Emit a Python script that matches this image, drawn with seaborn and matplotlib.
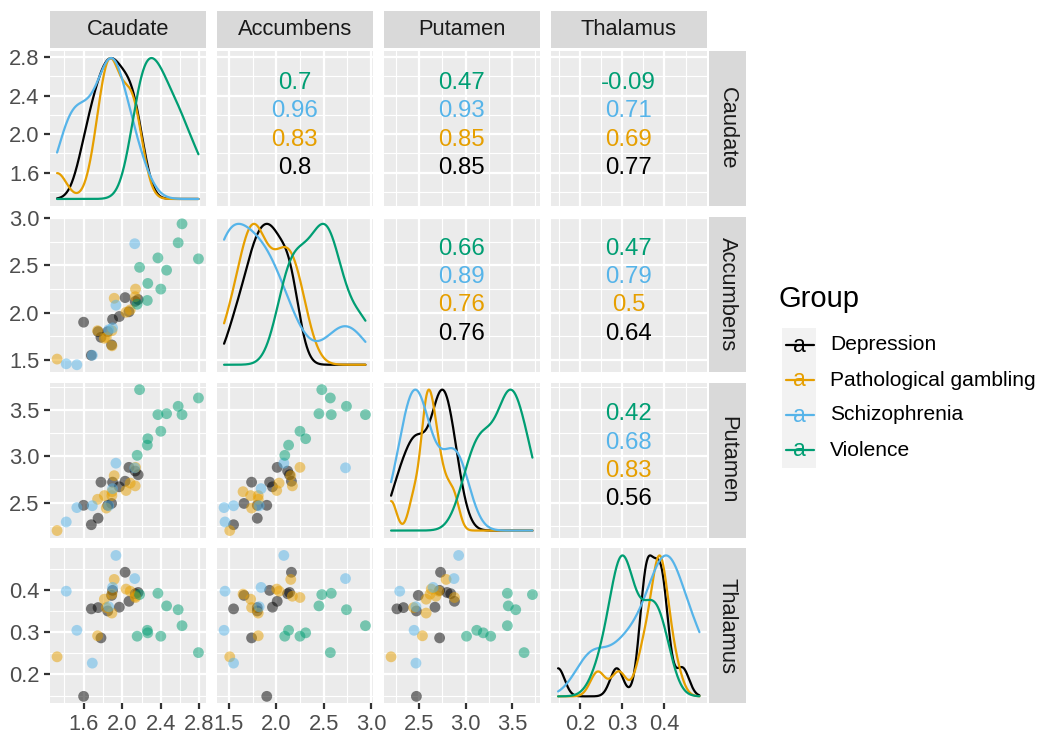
import numpy as np
import pandas as pd
import seaborn as sns
import matplotlib.pyplot as plt
from matplotlib.patches import Rectangle

sns.set_theme(style="darkgrid")
plt.rcParams['font.family'] = ['Liberation Sans', 'DejaVu Sans']

# Regional measures per subject, one list per group and region
depression_caudate = [1.60, 1.68, 1.75, 1.78, 1.85, 1.89, 1.90, 1.97, 2.03, 2.07, 2.135, 2.165]
depression_accumbens = [1.90, 1.55, 1.80, 1.74, 1.80, 1.66, 1.93, 1.96, 2.16, 2.01, 2.12, 2.14]
depression_putamen = [2.47, 2.26, 2.33, 2.72, 2.47, 2.49, 2.72, 2.67, 2.73, 2.88, 2.84, 2.80]
depression_thalamus = [0.148, 0.356, 0.359, 0.287, 0.351, 0.388, 0.400, 0.360, 0.443, 0.374, 0.392, 0.395]

gambling_caudate = [1.325, 1.745, 1.917, 2.04, 2.138, 1.815, 1.835, 1.893, 1.894, 2.135, 2.083]
gambling_accumbens = [1.51, 1.81, 2.153, 2.005, 2.25, 1.73, 1.74, 1.81, 1.65, 2.17, 2.03]
gambling_putamen = [2.197, 2.535, 2.79, 2.63, 2.88, 2.575, 2.44, 2.575, 2.617, 2.68, 2.71]
gambling_thalamus = [0.242, 0.292, 0.426, 0.403, 0.383, 0.379, 0.359, 0.346, 0.391, 0.386, 0.398]

schizophrenia_caudate = [1.42, 1.53, 1.69, 1.935, 2.13, 1.90, 1.86]
schizophrenia_accumbens = [1.46, 1.45, 1.55, 2.08, 2.73, 1.84, 1.82]
schizophrenia_putamen = [2.29, 2.445, 2.465, 2.925, 2.875, 2.65, 2.465]
schizophrenia_thalamus = [0.398, 0.305, 0.227, 0.483, 0.428, 0.407, 0.361]

violence_caudate = [2.62, 2.58, 2.79, 2.37, 2.46, 2.18, 2.265, 2.40, 2.26, 2.155]
violence_accumbens = [2.94, 2.74, 2.57, 2.58, 2.45, 2.48, 2.31, 2.25, 2.13, 2.09]
violence_putamen = [3.45, 3.54, 3.63, 3.45, 3.46, 3.72, 3.19, 3.27, 3.12, 3.01]
violence_thalamus = [0.316, 0.354, 0.252, 0.393, 0.363, 0.390, 0.299, 0.291, 0.305, 0.291]

group_names = ["Depression", "Pathological gambling", "Schizophrenia", "Violence"]
group_colors = ["#000000", "#E69F00", "#56B4E9", "#009E73"]
regions = ["Caudate", "Accumbens", "Putamen", "Thalamus"]

# Within-group correlations printed in the upper panels
corr_pairs = [("Caudate", "Accumbens"), ("Caudate", "Putamen"), ("Caudate", "Thalamus"),
              ("Accumbens", "Putamen"), ("Accumbens", "Thalamus"), ("Putamen", "Thalamus")]
corr_depression = [0.8, 0.85, 0.77, 0.76, 0.64, 0.56]
corr_gambling = [0.83, 0.85, 0.69, 0.76, 0.5, 0.83]
corr_schizophrenia = [0.96, 0.93, 0.71, 0.89, 0.79, 0.68]
corr_violence = [0.7, 0.47, -0.09, 0.66, 0.47, 0.42]

major_breaks = {"Caudate": [1.6, 2.0, 2.4, 2.8], "Accumbens": [1.5, 2.0, 2.5, 3.0],
                "Putamen": [2.5, 3.0, 3.5], "Thalamus": [0.2, 0.3, 0.4]}
minor_breaks = {"Caudate": [1.4, 1.8, 2.2, 2.6], "Accumbens": [1.75, 2.25, 2.75],
                "Putamen": [2.25, 2.75, 3.25, 3.75], "Thalamus": [0.15, 0.25, 0.35, 0.45]}

frames = []
for name, cols in zip(group_names, [
        (depression_caudate, depression_accumbens, depression_putamen, depression_thalamus),
        (gambling_caudate, gambling_accumbens, gambling_putamen, gambling_thalamus),
        (schizophrenia_caudate, schizophrenia_accumbens, schizophrenia_putamen, schizophrenia_thalamus),
        (violence_caudate, violence_accumbens, violence_putamen, violence_thalamus)]):
    frames.append(pd.DataFrame({"Group": name, **dict(zip(regions, cols))}))
df = pd.concat(frames, ignore_index=True)
palette = dict(zip(group_names, group_colors))

corr_table = {g: dict(zip(corr_pairs, vals)) for g, vals in zip(
    group_names, [corr_depression, corr_gambling, corr_schizophrenia, corr_violence])}


def nrd0(x):
    sd = np.std(x, ddof=1)
    q75, q25 = np.percentile(x, [75, 25])
    lo = min(sd, (q75 - q25) / 1.34)
    if lo <= 0:
        lo = sd
    return 0.9 * lo * len(x) ** -0.2


# Scaled group densities mapped onto each region's value range
dens_parts = []
for v in regions:
    lo, hi = df[v].min(), df[v].max()
    grid = np.linspace(lo, hi, 512)
    for g in group_names:
        x = df.loc[df.Group == g, v].to_numpy()
        bw = nrd0(x)
        d = np.exp(-0.5 * ((grid[:, None] - x[None, :]) / bw) ** 2).sum(axis=1)
        d = d / d.max()
        dens_parts.append(pd.DataFrame({"region": v, "Group": g, "x": grid,
                                        "y": lo + d * (hi - lo)}))
dens = pd.concat(dens_parts, ignore_index=True)

lims = {}
for v in regions:
    lo, hi = df[v].min(), df[v].max()
    pad = 0.05 * (hi - lo)
    lims[v] = (lo - pad, hi + pad)

W, H, DPI = 1040, 738, 150
fig = plt.figure(figsize=(W / DPI, H / DPI), dpi=DPI)
fig.patch.set_facecolor("white")


def px_axes(x0, y0, w, h):
    return fig.add_axes([x0 / W, 1 - (y0 + h) / H, w / W, h / H])


col_left = [50, 217, 384, 551]
row_top = [51, 216.8, 382.6, 548.4]
PW, PH = 155.5, 155
LW = 1.07
AXIS_FS = 10.5
text_rows_y = [0.795, 0.612, 0.429, 0.246]
text_order = ["Violence", "Schizophrenia", "Pathological gambling", "Depression"]

for i, rv in enumerate(regions):
    for j, cv in enumerate(regions):
        ax = px_axes(col_left[j], row_top[i], PW, PH)
        ax.set_facecolor("#EBEBEB")
        if i > j:
            sns.scatterplot(data=df, x=cv, y=rv, hue="Group", hue_order=group_names,
                            palette=palette, alpha=0.5, s=27, linewidth=0,
                            legend=False, ax=ax, zorder=3)
        elif i == j:
            sns.lineplot(data=dens[dens.region == rv], x="x", y="y", hue="Group",
                         hue_order=group_names, palette=palette, estimator=None,
                         sort=False, lw=LW, legend=False, ax=ax, zorder=3)
        else:
            for g, yy in zip(text_order, text_rows_y):
                ax.text(0.5, yy, f"{corr_table[g][(rv, cv)]:g}", transform=ax.transAxes,
                        ha="center", va="center", fontsize=11.5, color=palette[g], zorder=3)
        ax.set_xlim(lims[cv])
        ax.set_ylim(lims[rv])
        ax.set_xticks(major_breaks[cv])
        ax.set_xticks(minor_breaks[cv], minor=True)
        ax.set_yticks(major_breaks[rv])
        ax.set_yticks(minor_breaks[rv], minor=True)
        ax.set_xticklabels([f"{b:.1f}" for b in major_breaks[cv]])
        ax.set_yticklabels([f"{b:.1f}" for b in major_breaks[rv]])
        ax.grid(which="major", color="white", lw=LW)
        ax.grid(which="minor", color="white", lw=LW / 2)
        ax.set_axisbelow(True)
        for s in ax.spines.values():
            s.set_visible(False)
        ax.set_xlabel("")
        ax.set_ylabel("")
        ax.tick_params(which="minor", length=0, bottom=False, left=False)
        ax.tick_params(axis="x", which="major", bottom=(i == 3), labelbottom=(i == 3),
                       length=2.75, width=LW, color="#333333", labelcolor="#4D4D4D",
                       labelsize=AXIS_FS, pad=2.2)
        ax.tick_params(axis="y", which="major", left=(j == 0), labelleft=(j == 0),
                       length=2.75, width=LW, color="#333333", labelcolor="#4D4D4D",
                       labelsize=AXIS_FS, pad=2.2)

# Facet strips
STRIP = 37
for j, v in enumerate(regions):
    s = px_axes(col_left[j], row_top[0] - STRIP - 3, PW, STRIP)
    s.set_facecolor("#D9D9D9")
    s.set_xticks([]); s.set_yticks([])
    for sp in s.spines.values():
        sp.set_visible(False)
    s.text(0.5, 0.5, v, ha="center", va="center", fontsize=AXIS_FS, color="#1A1A1A",
           transform=s.transAxes)
for i, v in enumerate(regions):
    s = px_axes(col_left[3] + PW + 2.5, row_top[i], STRIP, PH)
    s.set_facecolor("#D9D9D9")
    s.set_xticks([]); s.set_yticks([])
    for sp in s.spines.values():
        sp.set_visible(False)
    s.text(0.5, 0.5, v, ha="center", va="center", fontsize=AXIS_FS, color="#1A1A1A",
           rotation=-90, transform=s.transAxes)

# Legend
leg = fig.add_axes([0, 0, 1, 1])
leg.set_xlim(0, W)
leg.set_ylim(H, 0)
leg.axis("off")
leg.patch.set_alpha(0)
leg.text(778, 299, "Group", fontsize=14, color="black", ha="left", va="center")
KEY = 35
for k, (g, c) in enumerate(zip(group_names, group_colors)):
    yc = 345 + k * KEY
    leg.add_patch(Rectangle((782, yc - KEY / 2), KEY - 1, KEY, facecolor="#F2F2F2",
                            edgecolor="none"))
    leg.plot([782 + 0.1 * KEY, 782 + 0.9 * KEY], [yc, yc], color=c, lw=LW)
    leg.text(782 + KEY / 2, yc, "a", fontsize=11, color=c, ha="center", va="center")
    leg.text(830, yc, g, fontsize=10.1, color="black", ha="left", va="center")

fig.savefig("out.png", dpi=DPI)
